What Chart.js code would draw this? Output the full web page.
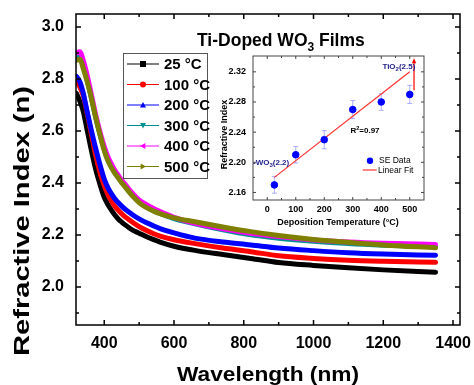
<!DOCTYPE html>
<html>
<head>
<meta charset="utf-8">
<script src="https://cdn.jsdelivr.net/npm/chart.js@4.4.1/dist/chart.umd.min.js"></script>
<style>
  html, body { margin: 0; padding: 0; background: #fff; }
  #wrap { position: relative; width: 474px; height: 385px; overflow: hidden; }
  #main { position: absolute; left: 0; top: 0; }
  #inset { position: absolute; left: 200px; top: 45px; }
</style>
</head>
<body>
<div id="wrap">
  <canvas id="main" width="474" height="385"></canvas>
  <canvas id="inset" width="240" height="190"></canvas>
</div>
<script>
// main plot: refractive index vs wavelength
const wavelengths = [320, 330, 340, 350, 360, 375, 390, 400, 410, 420, 430, 440, 450, 460, 470, 480, 500, 520, 540, 560, 600, 660, 740, 820, 900, 1000, 1100, 1200, 1350];
const n25C  = [2.745, 2.715, 2.675, 2.610, 2.545, 2.455, 2.385, 2.345, 2.318, 2.297, 2.278, 2.262, 2.250, 2.239, 2.229, 2.220, 2.207, 2.194, 2.183, 2.173, 2.157, 2.141, 2.125, 2.110, 2.094, 2.083, 2.074, 2.066, 2.057];
const n100C = [2.790, 2.770, 2.735, 2.675, 2.610, 2.510, 2.430, 2.390, 2.357, 2.332, 2.312, 2.296, 2.282, 2.270, 2.260, 2.250, 2.232, 2.218, 2.206, 2.196, 2.182, 2.167, 2.150, 2.136, 2.120, 2.110, 2.103, 2.099, 2.095];
const n200C = [2.810, 2.790, 2.745, 2.680, 2.620, 2.535, 2.460, 2.415, 2.383, 2.360, 2.340, 2.325, 2.311, 2.299, 2.289, 2.279, 2.262, 2.248, 2.236, 2.225, 2.208, 2.188, 2.173, 2.162, 2.150, 2.140, 2.132, 2.127, 2.122];
const n300C = [2.880, 2.885, 2.850, 2.800, 2.745, 2.655, 2.575, 2.530, 2.492, 2.465, 2.441, 2.422, 2.403, 2.387, 2.370, 2.355, 2.328, 2.308, 2.294, 2.283, 2.263, 2.243, 2.220, 2.201, 2.188, 2.176, 2.167, 2.161, 2.155];
const n400C = [2.900, 2.905, 2.870, 2.820, 2.760, 2.665, 2.585, 2.540, 2.502, 2.475, 2.450, 2.430, 2.411, 2.395, 2.378, 2.362, 2.335, 2.318, 2.303, 2.290, 2.268, 2.245, 2.224, 2.207, 2.194, 2.181, 2.173, 2.168, 2.164];
const n500C = [2.872, 2.876, 2.840, 2.795, 2.745, 2.655, 2.575, 2.525, 2.487, 2.460, 2.438, 2.420, 2.401, 2.385, 2.368, 2.352, 2.325, 2.306, 2.293, 2.282, 2.266, 2.251, 2.231, 2.213, 2.198, 2.183, 2.172, 2.162, 2.151];

const seriesLabels = ["25 °C", "100 °C", "200 °C", "300 °C", "400 °C", "500 °C"];
const seriesValues = [n25C, n100C, n200C, n300C, n400C, n500C];
const seriesColors = ["#000000", "#ff0000", "#0000ff", "#009090", "#ff00ff", "#808000"];
const seriesMarkers = ["square", "circle", "up", "down", "left", "right"];

const xTicks = [400, 600, 800, 1000, 1200, 1400];
const xMinorTicks = [500, 700, 900, 1100, 1300];
const yTicks = [2.0, 2.2, 2.4, 2.6, 2.8, 3.0];
const yMinorTicks = [1.9, 2.1, 2.3, 2.5, 2.7, 2.9];

// inset: refractive index vs deposition temperature
const depTemps = [25, 100, 200, 300, 400, 500];
const seIndex = [2.170, 2.210, 2.230, 2.270, 2.280, 2.290];
const seError = [0.011, 0.011, 0.012, 0.012, 0.011, 0.012];
const fitTemps = [25, 500];
const fitIndex = [2.180, 2.320];
const insetXTicks = [0, 100, 200, 300, 400, 500];
const insetXMinor = [50, 150, 250, 350, 450];
const insetYTicks = [2.16, 2.20, 2.24, 2.28, 2.32];
const insetYMinor = [2.18, 2.22, 2.26, 2.30];

const FONT = "'Liberation Sans', Arial, sans-serif";
Chart.defaults.font.family = FONT;
Chart.defaults.color = "#000";

// keep chart area where we put it: drop the label overhang padding
function fixX(height) {
  return (s) => { s.height = height; s.paddingLeft = 0; s.paddingRight = 0; };
}
function fixY(width) {
  return (s) => { s.width = width; s.paddingTop = 0; s.paddingBottom = 0; };
}

function frameAndTicks(chart, t) {
  const { ctx, chartArea: a, scales } = chart;
  ctx.save();
  ctx.strokeStyle = t.color;
  ctx.lineWidth = t.width;
  ctx.beginPath();
  [[t.xMajor, t.major], [t.xMinor, t.minor]].forEach(([vals, len]) => {
    vals.forEach((v) => {
      const px = scales.x.getPixelForValue(v);
      ctx.moveTo(px, a.bottom);
      ctx.lineTo(px, a.bottom - len);
      ctx.moveTo(px, a.top);
      ctx.lineTo(px, a.top + len);
    });
  });
  [[t.yMajor, t.major], [t.yMinor, t.minor]].forEach(([vals, len]) => {
    vals.forEach((v) => {
      const py = scales.y.getPixelForValue(v);
      ctx.moveTo(a.left, py);
      ctx.lineTo(a.left + len, py);
      ctx.moveTo(a.right, py);
      ctx.lineTo(a.right - len, py);
    });
  });
  ctx.stroke();
  ctx.strokeRect(a.left, a.top, a.right - a.left, a.bottom - a.top);
  ctx.restore();
}

function stretchedText(ctx, text, x, y, rotation, targetWidth, font) {
  ctx.save();
  ctx.font = font;
  ctx.translate(x, y);
  ctx.rotate(rotation);
  const w = ctx.measureText(text).width;
  ctx.scale(targetWidth / w, 1);
  ctx.textAlign = "center";
  ctx.textBaseline = "middle";
  ctx.fillStyle = "#000";
  ctx.fillText(text, 0, 0);
  ctx.restore();
}

// pieces: [text, size, dy]
function pieceText(ctx, pieces, x, y, weight, color) {
  ctx.save();
  ctx.fillStyle = color;
  ctx.textBaseline = "alphabetic";
  ctx.textAlign = "left";
  let cx = x;
  pieces.forEach(([txt, size, dy]) => {
    ctx.font = `${weight} ${size}px ${FONT}`;
    ctx.fillText(txt, cx, y + dy);
    cx += ctx.measureText(txt).width;
  });
  ctx.restore();
}

function drawMarker(ctx, kind, x, y, r, color) {
  ctx.fillStyle = color;
  ctx.beginPath();
  if (kind === "square") ctx.rect(x - r, y - r, 2 * r, 2 * r);
  else if (kind === "circle") ctx.arc(x, y, r, 0, Math.PI * 2);
  else if (kind === "up") { ctx.moveTo(x, y - r); ctx.lineTo(x + r, y + r * 0.8); ctx.lineTo(x - r, y + r * 0.8); }
  else if (kind === "down") { ctx.moveTo(x, y + r); ctx.lineTo(x + r, y - r * 0.8); ctx.lineTo(x - r, y - r * 0.8); }
  else if (kind === "left") { ctx.moveTo(x - r, y); ctx.lineTo(x + r * 0.8, y - r); ctx.lineTo(x + r * 0.8, y + r); }
  else if (kind === "right") { ctx.moveTo(x + r, y); ctx.lineTo(x - r * 0.8, y - r); ctx.lineTo(x - r * 0.8, y + r); }
  ctx.closePath();
  ctx.fill();
}

const mainDecor = {
  id: "mainDecor",
  afterDraw(chart) {
    const ctx = chart.ctx;
    frameAndTicks(chart, {
      color: "#000", width: 1.5, major: 5, minor: 3,
      xMajor: xTicks, xMinor: xMinorTicks, yMajor: yTicks, yMinor: yMinorTicks,
    });

    stretchedText(ctx, "Wavelength (nm)", 268, 375, 0, 182, `bold 20px ${FONT}`);
    stretchedText(ctx, "Refractive Index (n)", 23, 221, -Math.PI / 2, 270, `bold 22px ${FONT}`);

    // legend
    ctx.save();
    ctx.strokeStyle = "#555";
    ctx.lineWidth = 1;
    ctx.strokeRect(123.5, 53.5, 84, 125);
    seriesLabels.forEach((label, i) => {
      const y = 64 + i * 20.5;
      ctx.strokeStyle = seriesColors[i];
      ctx.lineWidth = 1;
      ctx.beginPath();
      ctx.moveTo(127, y);
      ctx.lineTo(159, y);
      ctx.stroke();
      drawMarker(ctx, seriesMarkers[i], 143, y, 3, seriesColors[i]);
      ctx.fillStyle = "#000";
      ctx.font = `bold 15px ${FONT}`;
      ctx.textBaseline = "middle";
      ctx.fillText(label, 164, y + 1);
    });
    ctx.restore();

    pieceText(ctx, [["Ti-Doped WO", 17.5, 0], ["3", 12, 5], [" Films", 17.5, 0]], 197, 46, "bold", "#000");
  },
};

new Chart(document.getElementById("main"), {
  type: "line",
  data: {
    datasets: seriesLabels.map((label, i) => ({
      label,
      data: wavelengths.map((w, j) => ({ x: w, y: seriesValues[i][j] })),
      borderColor: seriesColors[i],
      backgroundColor: seriesColors[i],
      borderWidth: 5,
      borderJoinStyle: "round",
      borderCapStyle: "round",
      pointRadius: 0,
      cubicInterpolationMode: "monotone",
      fill: false,
      order: seriesLabels.length - i,
    })),
  },
  options: {
    responsive: false,
    animation: false,
    devicePixelRatio: 1,
    layout: { padding: { left: 0, top: 14, right: 14, bottom: 0 } },
    plugins: { legend: { display: false }, tooltip: { enabled: false } },
    scales: {
      x: {
        type: "linear",
        min: 319,
        max: 1420,
        afterBuildTicks: (s) => { s.ticks = xTicks.map((v) => ({ value: v })); },
        afterFit: fixX(60),
        grid: { display: false, drawTicks: false },
        border: { display: false },
        ticks: { padding: 9, autoSkip: false, maxRotation: 0, font: { size: 16, weight: "bold" }, color: "#000", callback: (v) => String(v) },
      },
      y: {
        type: "linear",
        min: 1.854,
        max: 3.05,
        afterBuildTicks: (s) => { s.ticks = yTicks.map((v) => ({ value: v })); },
        afterFit: fixY(76),
        grid: { display: false, drawTicks: false },
        border: { display: false },
        ticks: { padding: 12, font: { size: 16, weight: "bold" }, color: "#000", callback: (v) => v.toFixed(1) },
      },
    },
  },
  plugins: [mainDecor],
});

const insetDecor = {
  id: "insetDecor",
  beforeDatasetsDraw(chart) {
    const { ctx, scales } = chart;
    ctx.save();
    ctx.strokeStyle = "rgba(110, 110, 255, 0.55)";
    ctx.lineWidth = 1;
    ctx.beginPath();
    depTemps.forEach((t, i) => {
      const px = scales.x.getPixelForValue(t);
      const top = scales.y.getPixelForValue(seIndex[i] + seError[i]);
      const bot = scales.y.getPixelForValue(seIndex[i] - seError[i]);
      ctx.moveTo(px, top); ctx.lineTo(px, bot);
      ctx.moveTo(px - 2.5, top); ctx.lineTo(px + 2.5, top);
      ctx.moveTo(px - 2.5, bot); ctx.lineTo(px + 2.5, bot);
    });
    ctx.stroke();
    ctx.restore();
  },
  afterDraw(chart) {
    const { ctx, scales, chartArea: a } = chart;
    frameAndTicks(chart, {
      color: "#444", width: 1, major: 3, minor: 2,
      xMajor: insetXTicks, xMinor: insetXMinor, yMajor: insetYTicks, yMinor: insetYMinor,
    });

    ctx.save();
    ctx.fillStyle = "#000";
    ctx.font = `bold 9px ${FONT}`;
    ctx.textAlign = "center";
    ctx.textBaseline = "middle";
    ctx.fillText("Deposition Temperature (°C)", 138, 178);
    ctx.translate(24.5, 89.5);
    ctx.rotate(-Math.PI / 2);
    ctx.fillText("Refractive Index", 0, 0);
    ctx.restore();

    // arrow towards TiO2
    const ax = scales.x.getPixelForValue(515);
    const ay0 = scales.y.getPixelForValue(2.2955);
    const ay1 = scales.y.getPixelForValue(2.338);
    ctx.save();
    ctx.strokeStyle = "#ff0000";
    ctx.fillStyle = "#ff0000";
    ctx.lineWidth = 1.2;
    ctx.beginPath();
    ctx.moveTo(ax, ay0);
    ctx.lineTo(ax, ay1 + 3);
    ctx.stroke();
    ctx.beginPath();
    ctx.moveTo(ax, ay1);
    ctx.lineTo(ax - 2.2, ay1 + 5);
    ctx.lineTo(ax + 2.2, ay1 + 5);
    ctx.closePath();
    ctx.fill();
    ctx.restore();

    const navy = "#23238c";
    pieceText(ctx, [["TiO", 8, 0], ["2", 6, 2], ["(2.5)", 8, 0]], scales.x.getPixelForValue(404), scales.y.getPixelForValue(2.328) + 3, "bold", navy);
    pieceText(ctx, [["-WO", 8, 0], ["3", 6, 2], ["(2.2)", 8, 0]], a.left, scales.y.getPixelForValue(2.2) + 3, "bold", navy);
    pieceText(ctx, [["R", 8, 0], ["2", 5.5, -3.5], ["=0.97", 8, 0]], scales.x.getPixelForValue(292), scales.y.getPixelForValue(2.2427) + 3, "bold", "#000");

    // legend
    ctx.save();
    drawMarker(ctx, "circle", 170, 115.7, 3.2, "#0000ff");
    ctx.strokeStyle = "#ff3030";
    ctx.lineWidth = 1.2;
    ctx.beginPath();
    ctx.moveTo(162.7, 125);
    ctx.lineTo(176.7, 125);
    ctx.stroke();
    ctx.fillStyle = "#000";
    ctx.font = `8.5px ${FONT}`;
    ctx.textBaseline = "middle";
    ctx.fillText("SE Data", 179, 116);
    ctx.fillText("Linear Fit", 178, 125.5);
    ctx.restore();
  },
};

new Chart(document.getElementById("inset"), {
  type: "scatter",
  data: {
    datasets: [
      {
        label: "SE Data",
        data: depTemps.map((t, i) => ({ x: t, y: seIndex[i] })),
        backgroundColor: "#0000ff",
        borderColor: "#0000ff",
        pointRadius: 3.3,
        order: 0,
      },
      {
        label: "Linear Fit",
        data: fitTemps.map((t, i) => ({ x: t, y: fitIndex[i] })),
        showLine: true,
        borderColor: "#ff3030",
        borderWidth: 1.2,
        pointRadius: 0,
        order: 1,
      },
    ],
  },
  options: {
    responsive: false,
    animation: false,
    devicePixelRatio: 1,
    layout: { padding: { left: 0, top: 11, right: 16, bottom: 0 } },
    plugins: { legend: { display: false }, tooltip: { enabled: false } },
    scales: {
      x: {
        type: "linear",
        min: -50,
        max: 550,
        afterBuildTicks: (s) => { s.ticks = insetXTicks.map((v) => ({ value: v })); },
        afterFit: fixX(35),
        grid: { display: false, drawTicks: false },
        border: { display: false },
        ticks: { padding: 4, autoSkip: false, maxRotation: 0, font: { size: 9, weight: "bold" }, color: "#000" },
      },
      y: {
        type: "linear",
        min: 2.15,
        max: 2.341,
        afterBuildTicks: (s) => { s.ticks = insetYTicks.map((v) => ({ value: v })); },
        afterFit: fixY(53),
        grid: { display: false, drawTicks: false },
        border: { display: false },
        ticks: { padding: 7, font: { size: 9, weight: "bold" }, color: "#000", callback: (v) => v.toFixed(2) },
      },
    },
  },
  plugins: [insetDecor],
});
</script>
</body>
</html>
